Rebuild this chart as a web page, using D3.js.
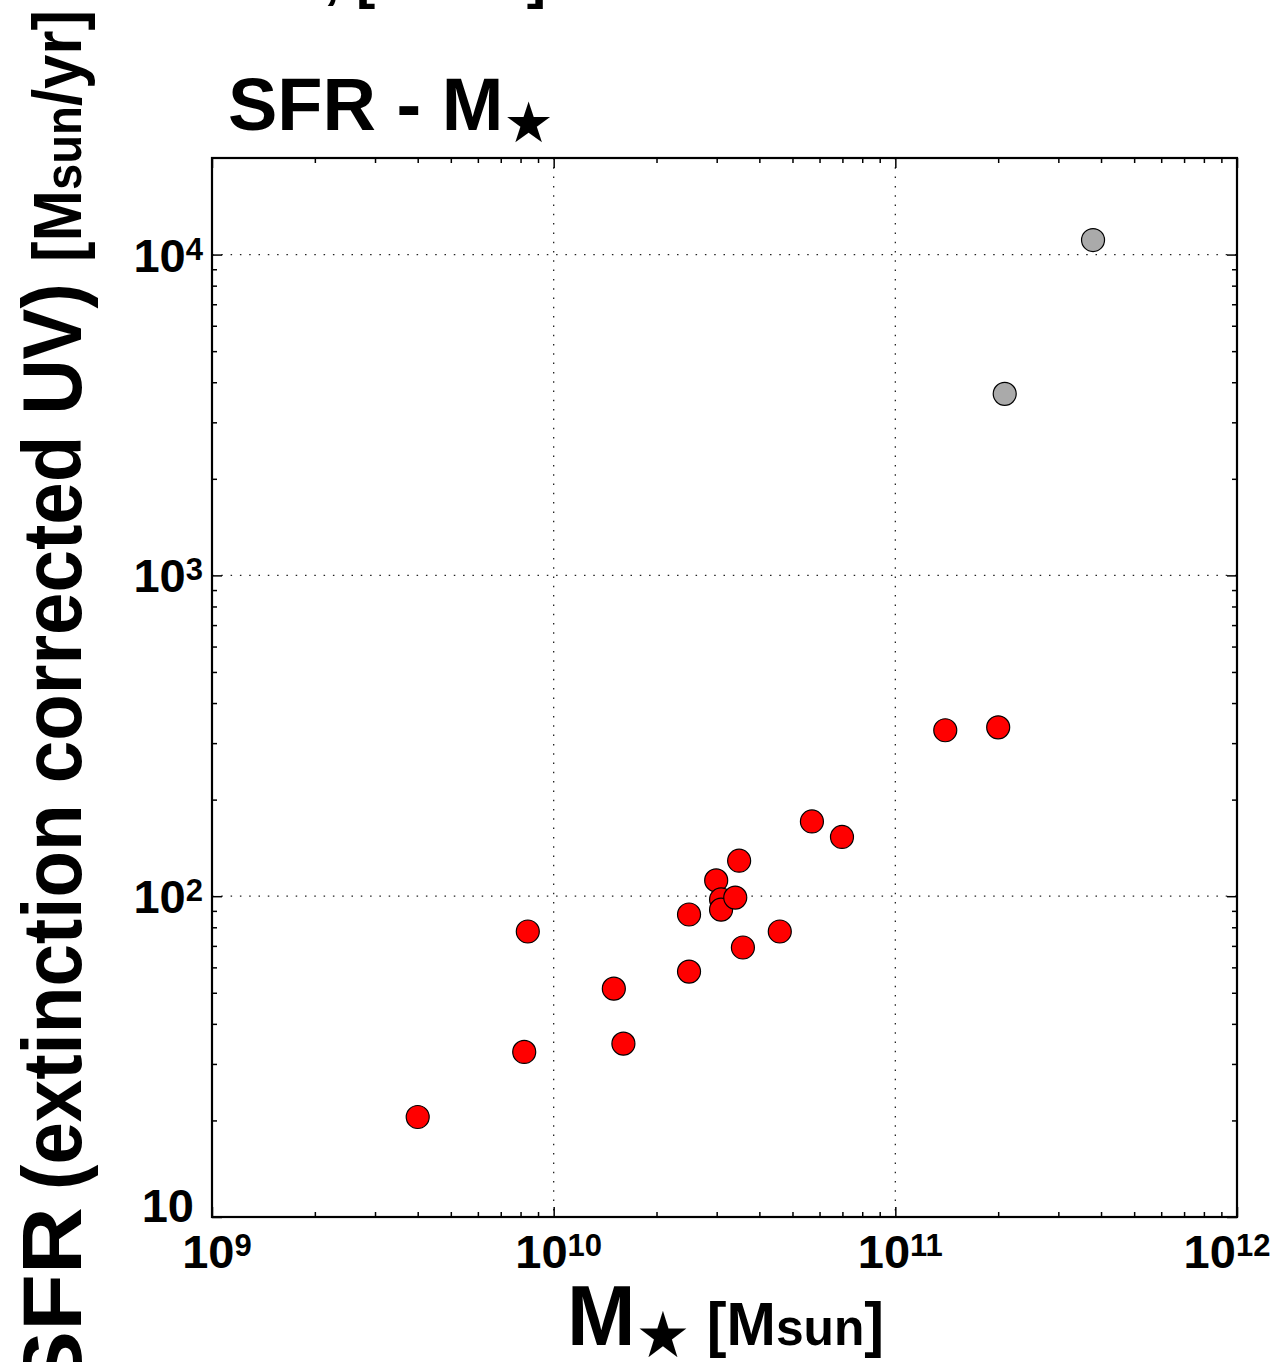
<!DOCTYPE html>
<html lang="en">
<head>
<meta charset="utf-8" />
<title>SFR - M star</title>
<script src="https://d3js.org/d3.v7.min.js"></script>
<style>
  body { margin: 0; background: #fff; }
  text { font-family: "Liberation Sans", Arial, Helvetica, sans-serif; font-weight: bold; fill: #000; }
  .star { font-family: "DejaVu Sans", sans-serif; }
</style>
</head>
<body>
<script>
// stellar mass [Msun] and SFR [Msun/yr]
var massRed = [4.0e9, 8.4e9, 8.2e9, 1.50e10, 1.60e10, 2.49e10, 2.49e10, 2.99e10, 3.09e10,
               3.09e10, 3.40e10, 3.49e10, 3.58e10, 4.59e10, 5.70e10, 6.98e10, 1.40e11, 2.00e11];
var sfrRed  = [20.5, 77.6, 32.7, 51.5, 34.7, 58.2, 87.7, 112, 97.7,
               90.8, 99, 129, 69.2, 77.6, 171, 153, 329, 336];
var massGray = [3.79e11, 2.09e11];
var sfrGray  = [1.11e4, 3680];

var xTickExp = [9, 10, 11, 12];
var yTickExp = [1, 2, 3, 4];

var W = 1277, H = 1362;
var x0 = 212, x1 = 1237, y0 = 158, y1 = 1217;

var svg = d3.select("body").append("svg")
  .attr("width", W)
  .attr("height", H);

var x = d3.scaleLog().domain([1e9, 1e12]).range([x0, x1]);
var y = d3.scaleLog().domain([10, 2e4]).range([y1, y0]);

// minor ticks 2..9 per decade
function minors(scale) {
  var d = scale.domain(), out = [];
  var lo = Math.floor(Math.log10(d[0])), hi = Math.ceil(Math.log10(d[1]));
  for (var e = lo; e < hi; e++) {
    for (var m = 2; m < 10; m++) {
      var v = m * Math.pow(10, e);
      if (v > d[0] && v < d[1]) out.push(v);
    }
  }
  return out;
}
var xMajor = xTickExp.map(function (e) { return Math.pow(10, e); });
var yMajor = yTickExp.map(function (e) { return Math.pow(10, e); });
var xMinor = minors(x), yMinor = minors(y);

// dotted grid
var grid = svg.append("g").attr("stroke", "#222").attr("stroke-width", 1.3)
  .attr("stroke-dasharray", "1.5,7.8");
grid.selectAll(".gx").data([1e10, 1e11]).enter().append("line")
  .attr("x1", function (d) { return x(d); }).attr("x2", function (d) { return x(d); })
  .attr("y1", y0).attr("y2", y1);
grid.selectAll(".gy").data([1e2, 1e3, 1e4]).enter().append("line")
  .attr("y1", function (d) { return y(d); }).attr("y2", function (d) { return y(d); })
  .attr("x1", x0).attr("x2", x1);

// ticks on all four sides, pointing inward
function addAxis(gen, tx, ty, vals, size) {
  var g = svg.append("g")
    .attr("transform", "translate(" + tx + "," + ty + ")")
    .call(gen.tickValues(vals).tickSize(-size).tickFormat(""));
  g.select(".domain").remove();
  g.selectAll("line").attr("stroke", "#000").attr("stroke-width", 1.5);
}
addAxis(d3.axisBottom(x), 0, y1, xMajor, 10);
addAxis(d3.axisBottom(x), 0, y1, xMinor, 5);
addAxis(d3.axisTop(x), 0, y0, xMajor, 10);
addAxis(d3.axisTop(x), 0, y0, xMinor, 5);
addAxis(d3.axisLeft(y), x0, 0, yMajor, 10);
addAxis(d3.axisLeft(y), x0, 0, yMinor, 5);
addAxis(d3.axisRight(y), x1, 0, yMajor, 10);
addAxis(d3.axisRight(y), x1, 0, yMinor, 5);

// points
svg.append("g").selectAll("circle").data(massRed).enter().append("circle")
  .attr("cx", function (d) { return x(d); })
  .attr("cy", function (d, i) { return y(sfrRed[i]); })
  .attr("r", 11.5)
  .attr("fill", "#ff0000").attr("stroke", "#000").attr("stroke-width", 1.2);
svg.append("g").selectAll("circle").data(massGray).enter().append("circle")
  .attr("cx", function (d) { return x(d); })
  .attr("cy", function (d, i) { return y(sfrGray[i]); })
  .attr("r", 11.5)
  .attr("fill", "#aaaaaa").attr("stroke", "#000").attr("stroke-width", 1.2);

// frame
svg.append("rect").attr("x", x0).attr("y", y0)
  .attr("width", x1 - x0).attr("height", y1 - y0)
  .attr("fill", "none").attr("stroke", "#000").attr("stroke-width", 2.2);

// tick labels as 10^n
xTickExp.forEach(function (e) {
  var t = svg.append("text")
    .attr("x", x(Math.pow(10, e)) + 5).attr("y", 1268)
    .attr("text-anchor", "middle");
  t.append("tspan").attr("font-size", 47).text("10");
  t.append("tspan").attr("font-size", 31).attr("dy", -12).text(e);
  if (e === 12) t.attr("x", x(Math.pow(10, e)) - 10);
});
yTickExp.forEach(function (e) {
  var t = svg.append("text")
    .attr("text-anchor", "end");
  if (e === 1) {
    t.attr("x", 194).attr("y", 1222).attr("font-size", 47).text("10");
  } else {
    t.attr("x", 203).attr("y", y(Math.pow(10, e)) + 17);
    t.append("tspan").attr("font-size", 47).text("10");
    t.append("tspan").attr("font-size", 31).attr("dy", -12).text(e);
  }
});

// title
var title = svg.append("text").attr("x", 228).attr("y", 130);
title.append("tspan").attr("font-size", 74).text("SFR - M");
title.append("tspan").attr("class", "star").attr("font-size", 56).attr("dy", 12).text("\u2605");

// cut-off text from the panel above
svg.append("text").attr("x", 546).attr("y", -3).attr("text-anchor", "end")
  .attr("font-size", 58).text("M, [Msun]");

// x label
var xl = svg.append("text").attr("x", 567).attr("y", 1345)
  .attr("textLength", 317).attr("lengthAdjust", "spacingAndGlyphs");
xl.append("tspan").attr("font-size", 86).text("M");
xl.append("tspan").attr("class", "star").attr("font-size", 64).attr("dy", 12).text("\u2605");
xl.append("tspan").attr("font-size", 62).attr("dy", -12).text(" [M");
xl.append("tspan").attr("font-size", 52).text("sun");
xl.append("tspan").attr("font-size", 62).text("]");

// y label (rotated), split so "SFR" keeps its own width
var yg = svg.append("g").attr("transform", "translate(81,1393) rotate(-90)");
yg.append("text").attr("x", 0).attr("y", 0).attr("font-size", 84)
  .attr("textLength", 186).attr("lengthAdjust", "spacingAndGlyphs")
  .text("SFR");
var yl = yg.append("text").attr("x", 203).attr("y", 0)
  .attr("textLength", 1180).attr("lengthAdjust", "spacingAndGlyphs");
yl.append("tspan").attr("font-size", 84).text("(extinction corrected UV) ");
yl.append("tspan").attr("font-size", 68).text("[M");
yl.append("tspan").attr("font-size", 52).text("sun");
yl.append("tspan").attr("font-size", 68).text("/yr]");
</script>
</body>
</html>
